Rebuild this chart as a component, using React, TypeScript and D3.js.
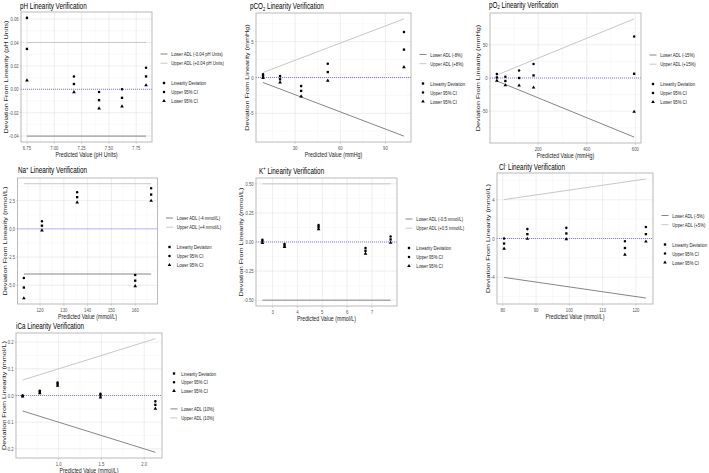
import React from 'react'
import * as d3 from 'd3'

const W = 709
const H = 473

// ---- pH ----
const phX = [6.75, 7.18, 7.41, 7.62, 7.84]
const phDev = [0.0345, 0.0045, -0.0093, -0.0073, 0.011]
const phUpper = [0.061, 0.011, -0.0023, 0.0, 0.0184]
const phLower = [0.0076, -0.0025, -0.0164, -0.0147, 0.0034]
const phXTicks = [6.75, 7.0, 7.25, 7.5, 7.75]
const phYTicks = [-0.04, -0.02, 0, 0.02, 0.04, 0.06]
const phAdl = 0.04

// ---- pCO2 ----
const pco2X = [8.7, 20, 34, 51.7, 102.3]
const pco2Dev = [0.2, -0.25, -1.87, 0.76, 3.89]
const pco2Upper = [0.45, 0.19, -1.2, 1.92, 6.34]
const pco2Lower = [-0.05, -0.68, -2.65, -0.43, 1.44]
const pco2XTicks = [30, 60, 90]
const pco2YTicks = [-5, 0, 5]
const pco2AdlPct = 8

// ---- pO2 ----
const po2X = [30, 65, 121.5, 181, 595]
const po2Dev = [0.8, -4.5, 0, 3.9, 6.4]
const po2Upper = [5.9, 1.9, 11.3, 21.2, 62.8]
const po2Lower = [-4, -11, -11.4, -14.4, -51]
const po2XTicks = [200, 400, 600]
const po2YTicks = [-50, 0, 50]
const po2AdlPct = 15

// ---- Na+ ----
const naX = [113.2, 120.8, 135.6, 160, 166.7]
const naDev = [-5.2, 0.28, 2.81, -4.59, 3.04]
const naUpper = [-4.35, 0.68, 3.25, -4.09, 3.6]
const naLower = [-6.15, -0.13, 2.34, -5.08, 2.49]
const naXTicks = [120, 130, 140, 150, 160]
const naYTicks = [-5, -2.5, 0, 2.5]
const naAdl = 4

// ---- K+ ----
const kX = [2.59, 3.48, 4.85, 6.74, 7.75]
const kDev = [0.005, -0.032, 0.128, -0.075, 0.022]
const kUpper = [0.02, -0.017, 0.145, -0.051, 0.048]
const kLower = [-0.009, -0.043, 0.111, -0.1, -0.006]
const kXTicks = [3, 4, 5, 6, 7]
const kYTicks = [-0.5, -0.25, 0, 0.25, 0.5]
const kAdl = 0.5

// ---- Cl- ----
const clX = [80.4, 87.4, 99.1, 116.7, 123]
const clDev = [-0.52, 0.45, 0.52, -0.98, 0.45]
const clUpper = [0, 0.97, 1.1, -0.28, 1.18]
const clLower = [-1.04, -0.03, -0.07, -1.67, -0.31]
const clXTicks = [80, 90, 100, 110, 120]
const clYTicks = [-4, 0, 4]
const clAdlPct = 5

// ---- iCa ----
const icaX = [0.58, 0.78, 0.988, 1.489, 2.13]
const icaDev = [-0.002, 0.0135, 0.043, 0.0, -0.035]
const icaUpper = [0.0, 0.018, 0.049, 0.006, -0.022]
const icaLower = [-0.004, 0.009, 0.037, -0.007, -0.049]
const icaXTicks = [1.0, 1.5, 2.0]
const icaYTicks = [-0.2, -0.1, 0, 0.1, 0.2]
const icaAdlPct = 10

const seriesNames = ['Linearity Deviation', 'Upper 95% CI', 'Lower 95% CI']

const FONT = "'Liberation Sans', Arial, Helvetica, sans-serif"
const SX = 0.73 // text is drawn narrow, like the rest of the figure
const LOWER_COL = '#868686'
const UPPER_COL = '#c8c8c8'

type Script = { base: string; mark?: string; kind?: 'sub' | 'sup'; rest: string }

type PanelSpec = {
  title: Script
  unit: string
  x: number[]
  dev: number[]
  upper: number[]
  lower: number[]
  adlAbs?: number
  adlPct?: number
  adlLabels: [string, string]
  xTicks: number[]
  yTicks: number[]
  xFmt: string
  yFmt: string
  box: [number, number, number, number]
  titleAt: [number, number]
  shapesFirst?: boolean
}

const panels: PanelSpec[] = [
  {
    title: { base: 'pH Linearity Verification', rest: '' },
    unit: 'pH Units',
    x: phX, dev: phDev, upper: phUpper, lower: phLower,
    adlAbs: phAdl,
    adlLabels: [`Lower ADL (-${phAdl} pH Units)`, `Upper ADL (+${phAdl} pH Units)`],
    xTicks: phXTicks, yTicks: phYTicks, xFmt: '.2f', yFmt: '.2f',
    box: [21, 12, 152, 142], titleAt: [20, 9],
  },
  {
    title: { base: 'pCO', mark: '2', kind: 'sub', rest: ' Linearity Verification' },
    unit: 'mmHg',
    x: pco2X, dev: pco2Dev, upper: pco2Upper, lower: pco2Lower,
    adlPct: pco2AdlPct,
    adlLabels: [`Lower ADL (-${pco2AdlPct}%)`, `Upper ADL (+${pco2AdlPct}%)`],
    xTicks: pco2XTicks, yTicks: pco2YTicks, xFmt: 'd', yFmt: 'd',
    box: [256, 13, 411, 142], titleAt: [250, 9],
  },
  {
    title: { base: 'pO', mark: '2', kind: 'sub', rest: ' Linearity Verification' },
    unit: 'mmHg',
    x: po2X, dev: po2Dev, upper: po2Upper, lower: po2Lower,
    adlPct: po2AdlPct,
    adlLabels: [`Lower ADL (-${po2AdlPct}%)`, `Upper ADL (+${po2AdlPct}%)`],
    xTicks: po2XTicks, yTicks: po2YTicks, xFmt: 'd', yFmt: 'd',
    box: [490, 13, 641, 143], titleAt: [489, 7.5],
  },
  {
    title: { base: 'Na', mark: '+', kind: 'sup', rest: ' Linearity Verification' },
    unit: 'mmol/L',
    x: naX, dev: naDev, upper: naUpper, lower: naLower,
    adlAbs: naAdl,
    adlLabels: [`Lower ADL (-${naAdl} mmol/L)`, `Upper ADL (+${naAdl} mmol/L)`],
    xTicks: naXTicks, yTicks: naYTicks, xFmt: 'd', yFmt: '.1f',
    box: [17.5, 178, 157.5, 304], titleAt: [18, 173],
  },
  {
    title: { base: 'K', mark: '+', kind: 'sup', rest: ' Linearity Verification' },
    unit: 'mmol/L',
    x: kX, dev: kDev, upper: kUpper, lower: kLower,
    adlAbs: kAdl,
    adlLabels: [`Lower ADL (-${kAdl} mmol/L)`, `Upper ADL (+${kAdl} mmol/L)`],
    xTicks: kXTicks, yTicks: kYTicks, xFmt: 'd', yFmt: '.2f',
    box: [256, 178, 397, 306], titleAt: [259, 173.5],
  },
  {
    title: { base: 'Cl', mark: '-', kind: 'sup', rest: ' Linearity Verification' },
    unit: 'mmol/L',
    x: clX, dev: clDev, upper: clUpper, lower: clLower,
    adlPct: clAdlPct,
    adlLabels: [`Lower ADL (-${clAdlPct}%)`, `Upper ADL (+${clAdlPct}%)`],
    xTicks: clXTicks, yTicks: clYTicks, xFmt: 'd', yFmt: 'd',
    box: [497, 173, 653, 304], titleAt: [499, 170],
  },
  {
    title: { base: 'iCa Linearity Verification', rest: '' },
    unit: 'mmol/L',
    x: icaX, dev: icaDev, upper: icaUpper, lower: icaLower,
    adlPct: icaAdlPct,
    adlLabels: [`Lower ADL (${icaAdlPct}%)`, `Upper ADL (${icaAdlPct}%)`],
    xTicks: icaXTicks, yTicks: icaYTicks, xFmt: '.1f', yFmt: '.1f',
    box: [16, 333, 162, 458], titleAt: [16, 329],
    shapesFirst: true,
  },
]

const shapePaths = [
  d3.symbol().type(d3.symbolSquare).size(5.5)()!,
  d3.symbol().type(d3.symbolCircle).size(5.2)()!,
  d3.symbol().type(d3.symbolTriangle).size(5.8)()!,
]

function Txt(props: {
  x: number; y: number; size: number; anchor?: string; rotate?: number
  fill?: string; dy?: string; children: React.ReactNode
}) {
  const { x, y, size, anchor = 'start', rotate = 0, fill = '#000', dy, children } = props
  return (
    <g transform={`translate(${x},${y}) scale(${SX},1)`}>
      <text
        transform={rotate ? `rotate(${rotate})` : undefined}
        fontSize={size}
        textAnchor={anchor}
        fill={fill}
        fontFamily={FONT}
        dy={dy}
      >
        {children}
      </text>
    </g>
  )
}

const expand = (e: [number, number]): [number, number] => {
  const d = (e[1] - e[0]) * 0.05
  return [e[0] - d, e[1] + d]
}

function Panel({ p }: { p: PanelSpec }) {
  const [l, t, r, b] = p.box
  const xExt = d3.extent(p.x) as [number, number]
  const adlAt = (v: number) => (p.adlPct ? Math.abs(v) * p.adlPct / 100 : p.adlAbs!)
  const ys = [
    ...p.dev, ...p.upper, ...p.lower,
    adlAt(xExt[0]), -adlAt(xExt[0]), adlAt(xExt[1]), -adlAt(xExt[1]),
  ]
  const x = d3.scaleLinear().domain(expand(xExt)).range([l, r])
  const y = d3.scaleLinear().domain(expand(d3.extent(ys) as [number, number])).range([b, t])

  const minorOf = (ticks: number[], dom: number[]) => {
    const step = ticks[1] - ticks[0]
    const out: number[] = []
    for (let v = ticks[0] - step / 2; v <= dom[1]; v += step) {
      if (v >= dom[0]) out.push(v)
    }
    return out
  }
  const xMinor = minorOf(p.xTicks, x.domain())
  const yMinor = minorOf(p.yTicks, y.domain())

  const adlX = [xExt[0], xExt[1]]
  const lowerLine = d3.line<number>().x(v => x(v)).y(v => y(-adlAt(v)))(adlX)!
  const upperLine = d3.line<number>().x(v => x(v)).y(v => y(adlAt(v)))(adlX)!

  const fx = d3.format(p.xFmt)
  const fy = d3.format(p.yFmt)
  const fmtY = (v: number) => fy(v).replace('\u2212', '-')

  // legend
  const keyX = r + 12
  const cy = (t + b) / 2
  const lineRows = p.shapesFirst ? [cy + 13.4, cy + 22.4] : [cy - 23, cy - 13.8]
  const shapeRows = p.shapesFirst ? [cy - 22, cy - 13.3, cy - 4.6] : [cy + 6, cy + 15, cy + 24]

  const labelW = d3.max(p.yTicks.map(v => fmtY(v)), s =>
    s.split('').reduce((a, c) => a + (c === '-' ? 0.333 : c === '.' ? 0.278 : 0.556), 0)
  )! * 5.8 * SX
  const yTitleX = Math.max(l - labelW - 5, 4.2)

  const series = [p.dev, p.upper, p.lower]
  const t0 = p.title

  return (
    <g>
      <rect x={l} y={t} width={r - l} height={b - t} fill="#fff" />
      {xMinor.map((v, i) => (
        <line key={'xm' + i} x1={x(v)} x2={x(v)} y1={t} y2={b} stroke="#efefef" strokeWidth={0.4} />
      ))}
      {yMinor.map((v, i) => (
        <line key={'ym' + i} x1={l} x2={r} y1={y(v)} y2={y(v)} stroke="#efefef" strokeWidth={0.4} />
      ))}
      {p.xTicks.map((v, i) => (
        <line key={'xg' + i} x1={x(v)} x2={x(v)} y1={t} y2={b} stroke="#e2e2e2" strokeWidth={0.6} />
      ))}
      {p.yTicks.map((v, i) => (
        <line key={'yg' + i} x1={l} x2={r} y1={y(v)} y2={y(v)} stroke="#e2e2e2" strokeWidth={0.6} />
      ))}

      <path d={upperLine} stroke={UPPER_COL} strokeWidth={1} fill="none" />
      <path d={lowerLine} stroke={LOWER_COL} strokeWidth={1} fill="none" />
      <line x1={l} x2={r} y1={y(0)} y2={y(0)} stroke="#4b4bff" strokeWidth={0.7} strokeDasharray="1 1" />

      {series.map((vals, si) =>
        vals.map((v, i) => (
          <path key={si + '-' + i} d={shapePaths[si]} transform={`translate(${x(p.x[i])},${y(v)})`} fill="#000" />
        ))
      )}

      <rect x={l} y={t} width={r - l} height={b - t} fill="none" stroke="#b3b3b3" strokeWidth={0.9} />

      {p.xTicks.map((v, i) => (
        <g key={'xt' + i}>
          <line x1={x(v)} x2={x(v)} y1={b} y2={b + 1.8} stroke="#b3b3b3" strokeWidth={0.6} />
          <Txt x={x(v)} y={b + 7.6} size={5.8} anchor="middle" fill="#555">{fx(v)}</Txt>
        </g>
      ))}
      {p.yTicks.map((v, i) => (
        <g key={'yt' + i}>
          <line x1={l - 1.3} x2={l} y1={y(v)} y2={y(v)} stroke="#b3b3b3" strokeWidth={0.6} />
          <Txt x={l - 2.4} y={y(v) + 2.05} size={5.8} anchor="end" fill="#555">{fmtY(v)}</Txt>
        </g>
      ))}

      <Txt x={(l + r) / 2} y={b + 15.2} size={7.25} anchor="middle" fill="#222">
        {`Predicted Value (${p.unit})`}
      </Txt>
      <Txt x={yTitleX} y={(t + b) / 2} size={7.25} anchor="middle" rotate={-90} dy="0.3em" fill="#222">
        {`Deviation From Linearity (${p.unit})`}
      </Txt>

      <Txt x={p.titleAt[0]} y={p.titleAt[1]} size={8.7}>
        {t0.base}
        {t0.mark && (
          <tspan fontSize={5.6} dy={t0.kind === 'sub' ? 1.8 : -3.4}>{t0.mark}</tspan>
        )}
        {t0.mark && <tspan dy={t0.kind === 'sub' ? -1.8 : 3.4}>{t0.rest}</tspan>}
      </Txt>

      {lineRows.map((ry, i) => (
        <g key={'ll' + i}>
          <line x1={keyX - 3.5} x2={keyX + 3.5} y1={ry} y2={ry} stroke={i === 0 ? LOWER_COL : UPPER_COL} strokeWidth={1} />
          <Txt x={keyX + 7.3} y={ry + 2} size={5.8} fill="#222">{p.adlLabels[i]}</Txt>
        </g>
      ))}
      {shapeRows.map((ry, i) => (
        <g key={'sl' + i}>
          <path d={shapePaths[i]} transform={`translate(${keyX},${ry})`} fill="#000" />
          <Txt x={keyX + 7.3} y={ry + 2} size={5.8} fill="#222">{seriesNames[i]}</Txt>
        </g>
      ))}
    </g>
  )
}

export default function App() {
  return (
    <svg
      width={W}
      height={H}
      style={{ position: 'absolute', left: 0, top: 0, display: 'block', background: '#fff' }}
    >
      <rect width={W} height={H} fill="#fff" />
      {panels.map((p, i) => (
        <Panel key={i} p={p} />
      ))}
    </svg>
  )
}
